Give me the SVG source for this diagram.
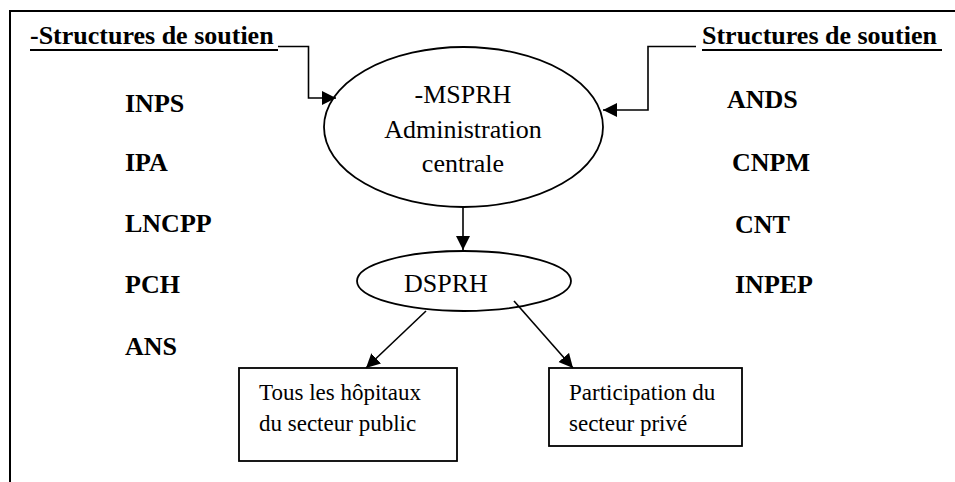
<svg xmlns="http://www.w3.org/2000/svg" width="955" height="482" viewBox="0 0 955 482">
<style>
  text { font-family: "Liberation Serif", "Times New Roman", Tinos, "DejaVu Serif", serif; fill: #000; }
  .b { font-weight: bold; font-size: 26px; }
  .n { font-size: 26px; }
  .s { font-size: 23px; }
  .ln { stroke: #000; stroke-width: 1.6; fill: none; }
  .shape { stroke: #000; stroke-width: 1.8; fill: #fff; }
  .frame { stroke: #000; stroke-width: 2; fill: none; }
</style>
<defs>
  <marker id="ah" markerUnits="userSpaceOnUse" markerWidth="15" markerHeight="15" refX="14" refY="7" orient="auto">
    <path d="M0,0 L14,7 L0,14 z" fill="#000"/>
  </marker>
  <clipPath id="clipR"><rect x="549" y="368" width="193" height="68"/></clipPath>
</defs>

<path class="frame" d="M10,482 L10,11 L955,11"/>

<g id="heading-left">
  <text class="b" x="30" y="44" font-family="Liberation Serif, serif">-Structures de soutien</text>
  <line x1="30" y1="50" x2="278" y2="50" stroke="#000" stroke-width="1.8"/>
</g>
<g id="heading-right">
  <text class="b" x="702" y="44" font-family="Liberation Serif, serif">Structures de soutien</text>
  <line x1="702" y1="50" x2="942" y2="50" stroke="#000" stroke-width="1.8"/>
</g>

<g id="list-left">
  <text class="b" x="125" y="112">INPS</text>
  <text class="b" x="125" y="171">IPA</text>
  <text class="b" x="125" y="232">LNCPP</text>
  <text class="b" x="125" y="293">PCH</text>
  <text class="b" x="125" y="355">ANS</text>
</g>
<g id="list-right">
  <text class="b" x="727" y="108">ANDS</text>
  <text class="b" x="732" y="171">CNPM</text>
  <text class="b" x="735" y="233">CNT</text>
  <text class="b" x="735" y="293">INPEP</text>
</g>

<g id="mspr">
  <ellipse class="shape" cx="463.5" cy="127" rx="139.5" ry="80"/>
  <text class="n" x="463" y="103" text-anchor="middle">-MSPRH</text>
  <text class="n" x="463" y="138" text-anchor="middle">Administration</text>
  <text class="n" x="463" y="172" text-anchor="middle">centrale</text>
</g>

<g id="dsprh">
  <ellipse class="shape" cx="464" cy="281" rx="107" ry="30"/>
  <text class="n" x="404" y="292">DSPRH</text>
</g>

<g id="box-public">
  <rect class="shape" x="239" y="368" width="218" height="93"/>
  <text class="s" x="259" y="400">Tous les hôpitaux</text>
  <text class="s" x="259" y="431">du secteur public</text>
</g>

<g id="box-prive">
  <rect class="shape" x="549" y="368" width="193" height="78"/>
  <g clip-path="url(#clipR)">
    <text class="s" x="569" y="400">Participation du</text>
    <text class="s" x="569" y="431">secteur privé</text>
  </g>
</g>

<g id="connectors">
  <path class="ln" d="M278,46.5 L308.5,46.5 L308.5,98 L336,98" marker-end="url(#ah)"/>
  <path class="ln" d="M696,46.5 L648,46.5 L648,110 L603,110" marker-end="url(#ah)"/>
  <path class="ln" d="M463,207 L463,250" marker-end="url(#ah)"/>
  <path class="ln" d="M426,311 L366,368" marker-end="url(#ah)"/>
  <path class="ln" d="M514,301 L573,368" marker-end="url(#ah)"/>
</g>
</svg>
